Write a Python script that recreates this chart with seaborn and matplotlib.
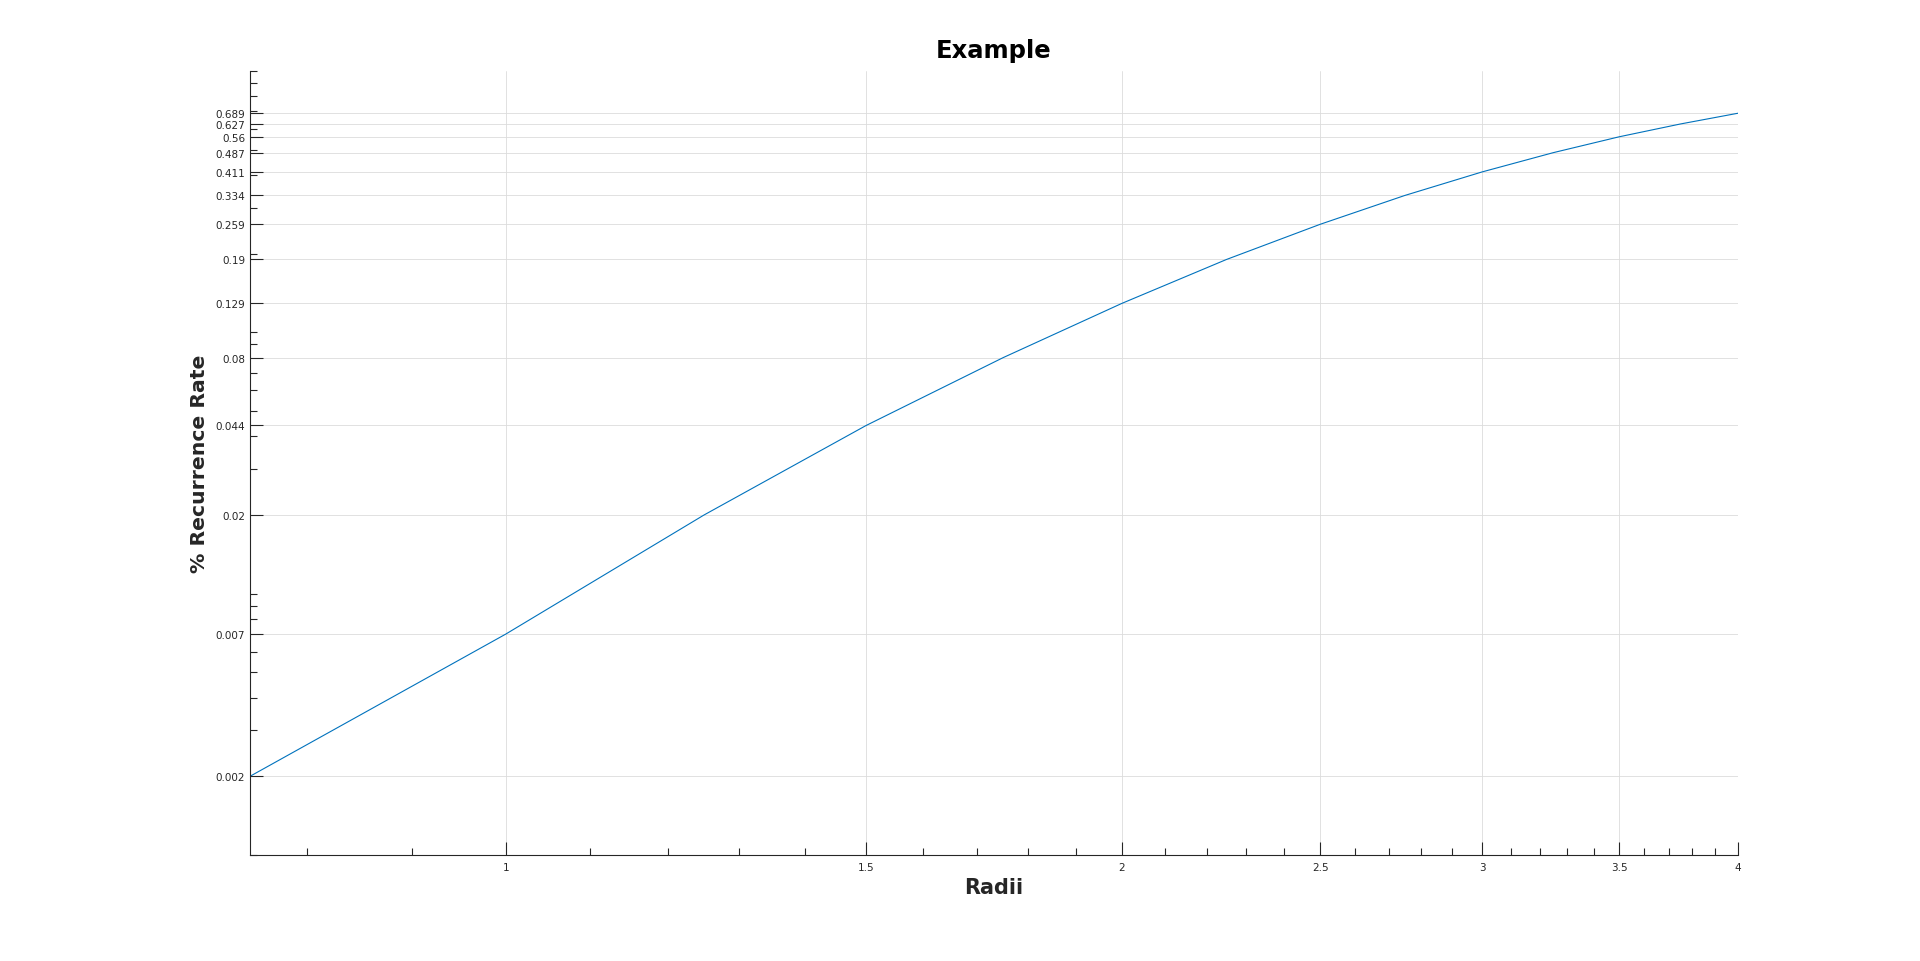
"""Log-log recurrence rate curve, MATLAB-style figure redone with seaborn."""
import matplotlib
matplotlib.use("Agg")
import matplotlib.pyplot as plt
import matplotlib.ticker as mticker
import numpy as np
import pandas as pd
import seaborn as sns

# data
radii = [0.75, 1.0, 1.25, 1.5, 1.75, 2.0, 2.25, 2.5, 2.75, 3.0, 3.25, 3.5, 3.75, 4.0]
recurrence = [0.002, 0.007, 0.02, 0.044, 0.08, 0.129, 0.19, 0.259, 0.334,
              0.411, 0.487, 0.56, 0.627, 0.689]
y_tick_labels = ["0.002", "0.007", "0.02", "0.044", "0.08", "0.129", "0.19",
                 "0.259", "0.334", "0.411", "0.487", "0.56", "0.627", "0.689"]
x_major_ticks = [1, 1.5, 2, 2.5, 3, 3.5, 4]
x_tick_labels = ["1", "1.5", "2", "2.5", "3", "3.5", "4"]
x_minor_ticks = [0.8, 0.9, 1.1, 1.2, 1.3, 1.4, 1.6, 1.7, 1.8, 1.9, 2.1, 2.2, 2.3,
                 2.4, 2.6, 2.7, 2.8, 2.9, 3.1, 3.2, 3.3, 3.4, 3.6, 3.7, 3.8, 3.9]

AX_COLOR = "#262626"

sns.set_theme(style="ticks")
plt.rcParams["font.family"] = ["DejaVu Sans"]

df = pd.DataFrame({"Radii": radii, "rate": recurrence})

fig = plt.figure(figsize=(19.2, 9.62), dpi=100)
ax = fig.add_axes([0.1302, 0.1102, 0.775, 0.815])
ax.set_xscale("log")
ax.set_yscale("log")

sns.lineplot(data=df, x="Radii", y="rate", ax=ax, color="#0072BD", linewidth=0.8)

ax.set_xlim(0.75, 4)
ax.set_ylim(0.001, 1)

ax.xaxis.set_major_locator(mticker.FixedLocator(x_major_ticks))
ax.xaxis.set_major_formatter(mticker.FixedFormatter(x_tick_labels))
ax.xaxis.set_minor_locator(mticker.FixedLocator(x_minor_ticks))
ax.xaxis.set_minor_formatter(mticker.NullFormatter())

ax.yaxis.set_major_locator(mticker.FixedLocator(recurrence))
ax.yaxis.set_major_formatter(mticker.FixedFormatter(y_tick_labels))
ax.yaxis.set_minor_locator(mticker.LogLocator(base=10, subs=np.arange(1, 10), numticks=30))
ax.yaxis.set_minor_formatter(mticker.NullFormatter())

ax.tick_params(which="both", direction="in", color=AX_COLOR, width=0.8)
ax.tick_params(which="major", length=9.6)
ax.tick_params(which="minor", length=4.8)
ax.tick_params(axis="x", which="major", labelsize=7.5, labelcolor=AX_COLOR, pad=5)
ax.tick_params(axis="y", which="major", labelsize=7.5, labelcolor=AX_COLOR, pad=3.5)

ax.grid(True, which="major", color="#dcdcdc", linewidth=0.6)
ax.set_axisbelow(True)

sns.despine(ax=ax)
for side in ("left", "bottom"):
    ax.spines[side].set_color(AX_COLOR)
    ax.spines[side].set_linewidth(0.8)

ax.set_title("Example", fontsize=17.5, fontweight="bold", color="black", pad=10)
ax.set_xlabel("Radii", fontsize=15, fontweight="bold", color=AX_COLOR, labelpad=4)
ax.set_ylabel("% Recurrence Rate", fontsize=14.7, fontweight="bold", color=AX_COLOR)
ax.yaxis.set_label_coords(-0.0276, 0.5)

fig.savefig("out.png", dpi=100)
